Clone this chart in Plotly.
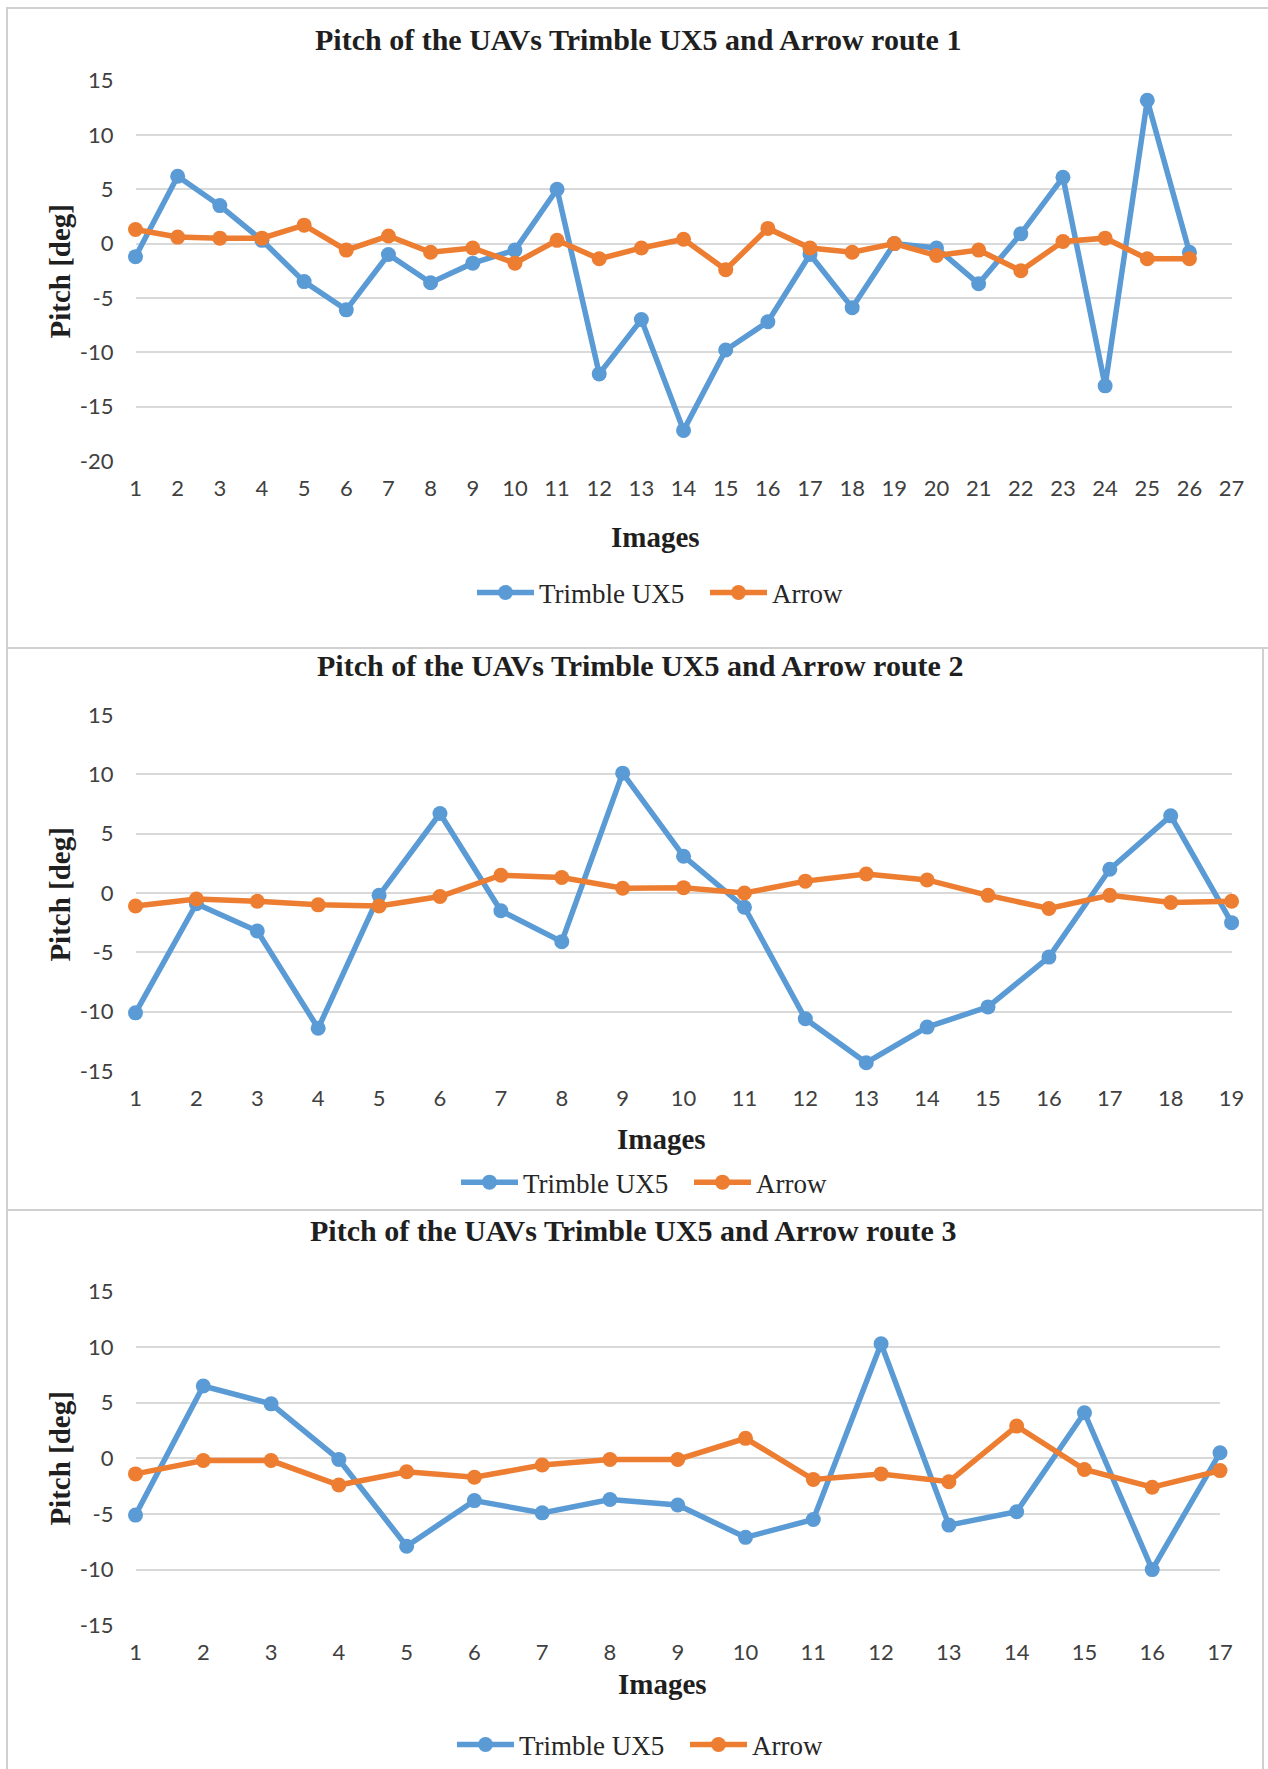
import plotly.graph_objects as go

# ---------------- data ----------------
images_r1 = list(range(1, 27))
trimble_r1 = [-1.2, 6.2, 3.5, 0.3, -3.5, -6.1, -1.0, -3.6, -1.8, -0.6, 5.0, -12.0, -7.0,
              -17.2, -9.8, -7.2, -1.0, -5.9, 0.0, -0.4, -3.7, 0.9, 6.1, -13.1, 13.2, -0.8]
arrow_r1 = [1.3, 0.6, 0.5, 0.5, 1.7, -0.6, 0.7, -0.8, -0.4, -1.8, 0.3, -1.4, -0.4,
            0.4, -2.4, 1.4, -0.4, -0.8, 0.0, -1.1, -0.6, -2.5, 0.2, 0.5, -1.4, -1.4]

images_r2 = list(range(1, 20))
trimble_r2 = [-10.1, -0.9, -3.2, -11.4, -0.2, 6.7, -1.5, -4.1, 10.1, 3.1, -1.2, -10.6,
              -14.3, -11.3, -9.6, -5.4, 2.0, 6.5, -2.5]
arrow_r2 = [-1.1, -0.5, -0.7, -1.0, -1.1, -0.3, 1.5, 1.3, 0.4, 0.45, 0.0, 1.0, 1.6,
            1.1, -0.2, -1.3, -0.2, -0.8, -0.7]

images_r3 = list(range(1, 18))
trimble_r3 = [-5.1, 6.5, 4.9, -0.1, -7.9, -3.8, -4.9, -3.7, -4.2, -7.1, -5.5, 10.3,
              -6.0, -4.8, 4.1, -10.0, 0.5]
arrow_r3 = [-1.4, -0.2, -0.2, -2.4, -1.2, -1.7, -0.6, -0.1, -0.1, 1.8, -1.9, -1.4,
            -2.1, 2.9, -1.0, -2.6, -1.1]

x_ticks_r1 = list(range(1, 28))
x_ticks_r2 = list(range(1, 20))
x_ticks_r3 = list(range(1, 18))
y_ticks_r1 = [-20, -15, -10, -5, 0, 5, 10, 15]
y_ticks_r23 = [-15, -10, -5, 0, 5, 10, 15]

titles = ["Pitch of the UAVs Trimble UX5 and Arrow route 1",
          "Pitch of the UAVs Trimble UX5 and Arrow route 2",
          "Pitch of the UAVs Trimble UX5 and Arrow route 3"]
series_names = ["Trimble UX5", "Arrow"]
y_title = "Pitch [deg]"
x_title = "Images"

# ---------------- layout constants (pixels) ----------------
W, H = 1268, 1769
BLUE, ORANGE = "#5B9BD5", "#ED7D31"
GRID = "#D9D9D9"
SERIF = "Liberation Serif, Times New Roman, serif"
SANS = "Lato, Carlito, Calibri, sans-serif"
TICKCOL = "#404040"

def px(x):
    return x / W

def py(y):
    return 1 - y / H

panels = [
    dict(x=images_r1, t=trimble_r1, a=arrow_r1, xt=x_ticks_r1, yt=y_ticks_r1,
         plot=(135.5, 80.7, 1231.6, 460.8),
         title=(638, 40), ytitle=(60, 271.5), xtitle=(655.6, 537), legend=(472, 593)),
    dict(x=images_r2, t=trimble_r2, a=arrow_r2, xt=x_ticks_r2, yt=y_ticks_r23,
         plot=(135.5, 715.0, 1231.6, 1071.0),
         title=(639.5, 665), ytitle=(60, 894.6), xtitle=(661, 1138.6), legend=(456, 1182.6)),
    dict(x=images_r3, t=trimble_r3, a=arrow_r3, xt=x_ticks_r3, yt=y_ticks_r23,
         plot=(135.5, 1291.5, 1220.0, 1625.2),
         title=(633, 1230), ytitle=(60, 1458.6), xtitle=(662, 1683.7), legend=(452, 1745)),
]

fig = go.Figure()
annotations = []
layout_extra = {}

for i, p in enumerate(panels):
    k = "" if i == 0 else str(i + 1)
    leg = "legend" if i == 0 else f"legend{i + 1}"
    for name, vals, col in ((series_names[0], p["t"], BLUE), (series_names[1], p["a"], ORANGE)):
        fig.add_trace(go.Scatter(
            x=p["x"], y=vals, name=name, mode="lines+markers",
            line=dict(color=col, width=5.5),
            marker=dict(color=col, size=15),
            cliponaxis=False,
            xaxis="x" + k, yaxis="y" + k, legend=leg,
        ))
    x0, y0, x1, y1 = p["plot"]
    xt, yt = p["xt"], p["yt"]
    layout_extra["xaxis" + k] = dict(
        domain=[px(x0), px(x1)], anchor="y" + k, range=[xt[0], xt[-1]],
        tickmode="array", tickvals=xt, ticktext=[str(v) for v in xt],
        showgrid=False, zeroline=False, automargin=False,
        showline=False, ticks="", ticklabelstandoff=12,
        tickfont=dict(family=SANS, size=22, color=TICKCOL),
    )
    layout_extra["yaxis" + k] = dict(
        domain=[py(y1), py(y0)], anchor="x" + k, range=[yt[0], yt[-1]],
        tickmode="array", tickvals=yt, ticktext=[str(v) for v in yt],
        showgrid=True, gridcolor=GRID, gridwidth=1.5, automargin=False,
        zeroline=False, showline=False, ticks="", ticklabelstandoff=21,
        tickfont=dict(family=SANS, size=22, color=TICKCOL),
    )
    layout_extra[leg] = dict(
        orientation="h", x=px(p["legend"][0]), y=py(p["legend"][1]),
        xanchor="left", yanchor="middle", bgcolor="rgba(0,0,0,0)",
        font=dict(family=SERIF, size=27, color="#262626"),
        itemwidth=57, entrywidth=161, entrywidthmode="pixels", tracegroupgap=0,
    )
    annotations.append(dict(
        text="<b>" + titles[i] + "</b>", x=px(p["title"][0]), y=py(p["title"][1]),
        xref="paper", yref="paper", showarrow=False, xanchor="center", yanchor="middle",
        font=dict(family=SERIF, size=30, color="#1F1F1F"),
    ))
    annotations.append(dict(
        text="<b>" + y_title + "</b>", x=px(p["ytitle"][0]), y=py(p["ytitle"][1]),
        xref="paper", yref="paper", showarrow=False, xanchor="center", yanchor="middle",
        textangle=-90, font=dict(family=SERIF, size=29, color="#1F1F1F"),
    ))
    annotations.append(dict(
        text="<b>" + x_title + "</b>", x=px(p["xtitle"][0]), y=py(p["xtitle"][1]),
        xref="paper", yref="paper", showarrow=False, xanchor="center", yanchor="middle",
        font=dict(family=SERIF, size=29, color="#1F1F1F"),
    ))

# chart frames
BORDER = "#D0D0D0"
shapes = [
    dict(type="rect", xref="paper", yref="paper", x0=px(7), x1=1.02, y0=py(648), y1=py(8),
         line=dict(color=BORDER, width=2)),
    dict(type="rect", xref="paper", yref="paper", x0=px(7), x1=px(1263), y0=py(1210), y1=py(648),
         line=dict(color=BORDER, width=2)),
    dict(type="rect", xref="paper", yref="paper", x0=px(7), x1=px(1263), y0=-0.02, y1=py(1210),
         line=dict(color=BORDER, width=2)),
]

fig.update_layout(
    width=W, height=H, margin=dict(l=0, r=0, t=0, b=0, pad=0, autoexpand=False),
    paper_bgcolor="white", plot_bgcolor="white",
    showlegend=True, annotations=annotations, shapes=shapes,
    **layout_extra,
)

fig.write_html("out.html", config={"displayModeBar": False},
               post_script="document.body.style.margin='0';document.body.style.overflow='hidden';")
